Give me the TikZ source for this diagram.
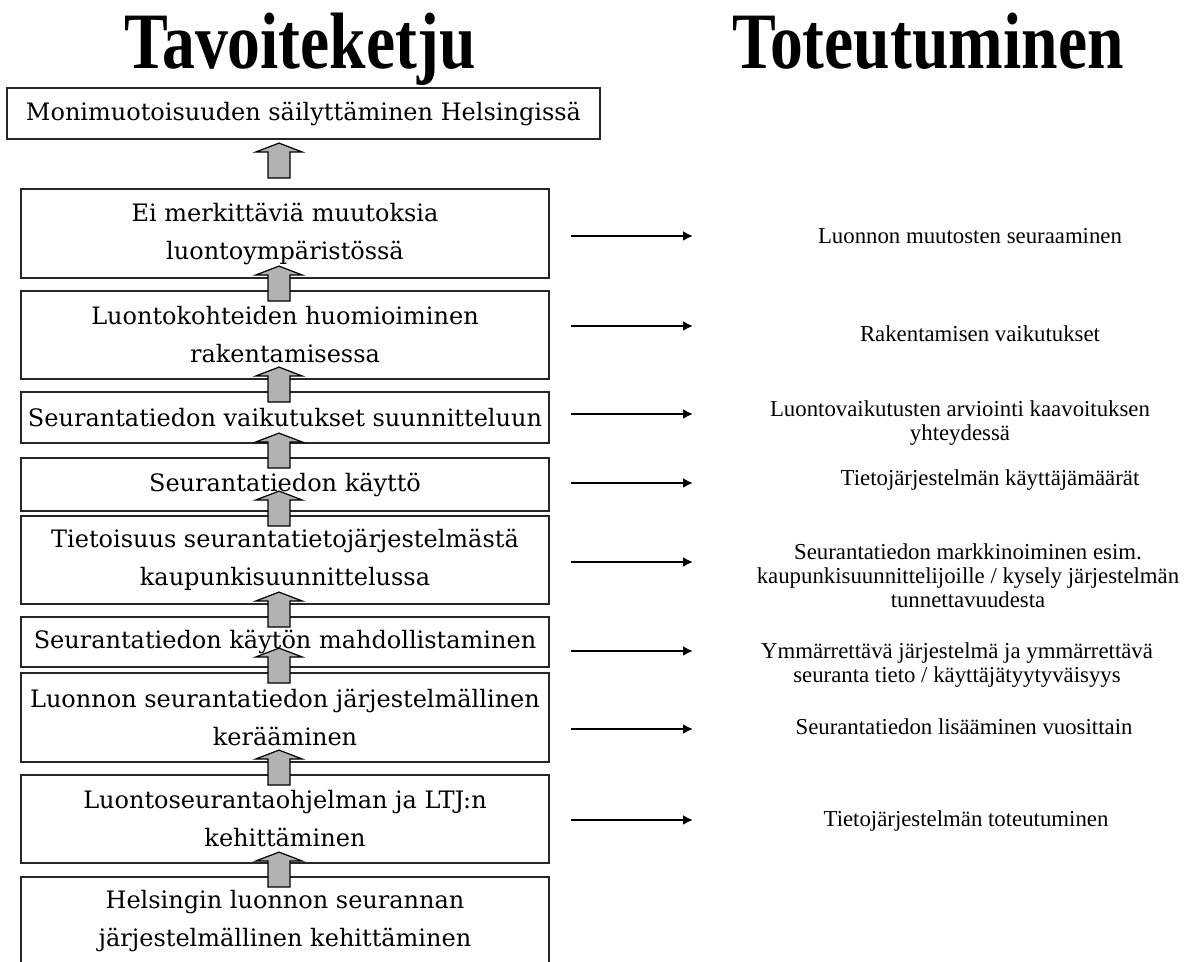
\documentclass[tikz,border=0pt]{standalone}
\usepackage{fontspec}
\setmainfont{Liberation Serif}
\newfontfamily\boxfont{DejaVu Serif}
\usepackage{tikz}
\usetikzlibrary{arrows.meta}
\usetikzlibrary{calc}

\tikzset{
  goal/.style={draw=black!85, line width=0.9pt, fill=white, minimum width=264pt, inner sep=0pt, align=center, font=\boxfont\fontsize{12}{19}\selectfont},
  result/.style={align=center, inner sep=0pt, font=\fontsize{11.4}{12}\selectfont},
  heading/.style={anchor=base, inner sep=0pt, font=\bfseries\fontsize{40}{44}\selectfont},
  blockarrow/.style={draw=black, line width=0.6pt, fill=black!30},
  resultarrow/.style={line width=1pt, -{Latex[length=5pt,width=5pt]}}
}

\newcommand{\goalbox}[4] {\node at (#1) (#2) [goal, minimum height=#3] {#4};}
\newcommand{\blockarrow}[2] {\draw [blockarrow] let \p1=([xshift=-3pt,yshift=#2]#1.north) in (\x1-5.5pt,\y1) -- (\x1-5.5pt,\y1+13pt) -- (\x1-11.75pt,\y1+13pt) -- (\x1,\y1+17.5pt) -- (\x1+11.75pt,\y1+13pt) -- (\x1+5.5pt,\y1+13pt) -- (\x1+5.5pt,\y1) -- cycle;}
\newcommand{\resultarrow}[2] {\coordinate (#1s) at (571,#2); \coordinate (#1e) at (693,#2); \draw [resultarrow] (#1s) -- (#1e);}

\begin{document}
\begin{tikzpicture}[x=0.5pt,y=-0.5pt]

\clip (0,0) rectangle (1191,962);

\node (goaltitle) [heading] at (300,69) {\scalebox{0.82}[1]{Tavoiteketju}};
\node (resulttitle) [heading] at (928,69) {\scalebox{0.82}[1]{Toteutuminen}};

\node at (303.5,113.5) (b1) [goal, minimum width=296.5pt, minimum height=25.5pt] {Monimuotoisuuden säilyttäminen Helsingissä};
\goalbox {285,233.5}{b2}{44.5pt}{Ei merkittäviä muutoksia\\luontoympäristössä};
\goalbox {285,335}{b3}{44pt}{Luontokohteiden huomioiminen\\rakentamisessa};
\goalbox {285,417.5}{b4}{25.5pt}{Seurantatiedon vaikutukset suunnitteluun};
\goalbox {285,484.5}{b5}{26.5pt}{Seurantatiedon käyttö};
\goalbox {285,560}{b6}{44pt}{Tietoisuus seurantatietojärjestelmästä\\kaupunkisuunnittelussa};
\goalbox {285,642}{b7}{25pt}{Seurantatiedon käytön mahdollistaminen};
\goalbox {285,717.5}{b8}{44.5pt}{Luonnon seurantatiedon järjestelmällinen\\kerääminen};
\goalbox {285,819}{b9}{44pt}{Luontoseurantaohjelman ja LTJ:n\\kehittäminen};
\goalbox {285,921.5}{b10}{44.5pt}{Helsingin luonnon seurannan\\järjestelmällinen kehittäminen};

\blockarrow{b2}{5pt};
\blockarrow{b3}{-5.5pt};
\blockarrow{b4}{-5.5pt};
\blockarrow{b5}{-5.5pt};
\blockarrow{b6}{-5.5pt};
\blockarrow{b7}{-5.5pt};
\blockarrow{b8}{-5.5pt};
\blockarrow{b9}{-5.5pt};
\blockarrow{b10}{-5.5pt};

\resultarrow{r2}{236};
\resultarrow{r3}{326};
\resultarrow{r4}{414};
\resultarrow{r5}{483};
\resultarrow{r6}{562};
\resultarrow{r7}{651};
\resultarrow{r8}{729};
\resultarrow{r9}{820};

\node (t2) [result] at (970,236) {Luonnon muutosten seuraaminen};
\node (t3) [result] at (980,334) {Rakentamisen vaikutukset};
\node (t4) [result] at (960,423) {Luontovaikutusten arviointi kaavoituksen\\yhteydessä};
\node (t5) [result] at (990,480) {Tietojärjestelmän käyttäjämäärät};
\node (t6) [result] at (968,576) {Seurantatiedon markkinoiminen esim.\\kaupunkisuunnittelijoille / kysely järjestelmän\\tunnettavuudesta};
\node (t7) [result] at (957,665) {Ymmärrettävä järjestelmä ja ymmärrettävä\\seuranta tieto / käyttäjätyytyväisyys};
\node (t8) [result] at (964,727) {Seurantatiedon lisääminen vuosittain};
\node (t9) [result] at (966,821) {Tietojärjestelmän toteutuminen};

\end{tikzpicture}
\end{document}
